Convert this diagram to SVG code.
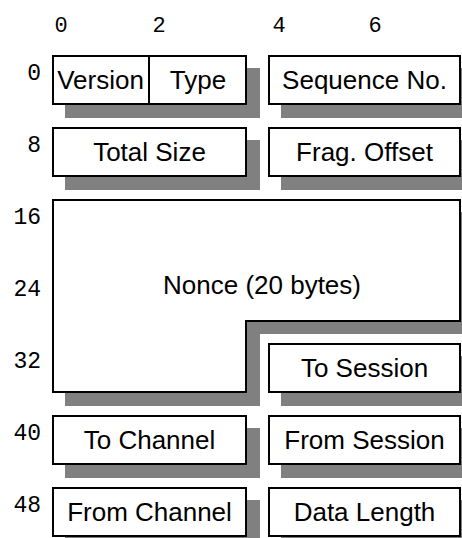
<svg xmlns="http://www.w3.org/2000/svg" width="462" height="538" viewBox="0 0 462 538">
<style>
.sh{fill:#808080;stroke:none}
.bx{fill:#ffffff;stroke:#000000;stroke-width:2}
.t{font-family:"Liberation Sans",Arial,sans-serif;font-size:26px;fill:#000;text-anchor:middle}
.n{font-family:"Liberation Mono","Courier New",monospace;font-size:23px;fill:#000;text-anchor:end}
.c{font-family:"Liberation Mono","Courier New",monospace;font-size:22px;fill:#000;text-anchor:middle}
</style>
<rect width="462" height="538" fill="#ffffff"/>
<g id="col-labels">
<text class="c" x="61" y="32">0</text>
<text class="c" x="159" y="32">2</text>
<text class="c" x="279" y="32">4</text>
<text class="c" x="375" y="32">6</text>
</g>
<g id="row-labels">
<text class="n" x="41" y="80">0</text>
<text class="n" x="41" y="152">8</text>
<text class="n" x="41" y="224">16</text>
<text class="n" x="41" y="296">24</text>
<text class="n" x="41" y="368">32</text>
<text class="n" x="41" y="440">40</text>
<text class="n" x="41" y="512">48</text>
</g>
<g id="shadows">
<rect class="sh" x="65" y="68" width="195" height="50"/>
<rect class="sh" x="281" y="68" width="195" height="50"/>
<rect class="sh" x="65" y="140" width="195" height="50"/>
<rect class="sh" x="281" y="140" width="195" height="50"/>
<path class="sh" d="M65,212 H474 V334 H260 V406 H65 Z"/>
<rect class="sh" x="281" y="356" width="195" height="50"/>
<rect class="sh" x="65" y="428" width="195" height="50"/>
<rect class="sh" x="281" y="428" width="195" height="50"/>
<rect class="sh" x="65" y="500" width="195" height="50"/>
<rect class="sh" x="281" y="500" width="195" height="50"/>
</g>
<g id="version">
<rect class="bx" x="53" y="56" width="96" height="48"/>
<text class="t" x="100.5" y="89">Version</text>
</g>
<g id="type">
<rect class="bx" x="149" y="56" width="97" height="48"/>
<text class="t" x="198" y="89">Type</text>
</g>
<g id="sequence-no">
<rect class="bx" x="269" y="56" width="191" height="48"/>
<text class="t" x="364.5" y="89">Sequence No.</text>
</g>
<g id="total-size">
<rect class="bx" x="53" y="128" width="193" height="48"/>
<text class="t" x="149.5" y="161">Total Size</text>
</g>
<g id="frag-offset">
<rect class="bx" x="269" y="128" width="191" height="48"/>
<text class="t" x="364.5" y="161">Frag. Offset</text>
</g>
<g id="nonce">
<path class="bx" d="M53,200 H460 V321 H246 V392 H53 Z"/>
<text class="t" x="262" y="294">Nonce (20 bytes)</text>
</g>
<g id="to-session">
<rect class="bx" x="269" y="344" width="191" height="48"/>
<text class="t" x="364.5" y="377">To Session</text>
</g>
<g id="to-channel">
<rect class="bx" x="53" y="416" width="193" height="48"/>
<text class="t" x="149.5" y="449">To Channel</text>
</g>
<g id="from-session">
<rect class="bx" x="269" y="416" width="191" height="48"/>
<text class="t" x="364.5" y="449">From Session</text>
</g>
<g id="from-channel">
<rect class="bx" x="53" y="488" width="193" height="48"/>
<text class="t" x="149.5" y="521">From Channel</text>
</g>
<g id="data-length">
<rect class="bx" x="269" y="488" width="191" height="48"/>
<text class="t" x="364.5" y="521">Data Length</text>
</g>
</svg>
